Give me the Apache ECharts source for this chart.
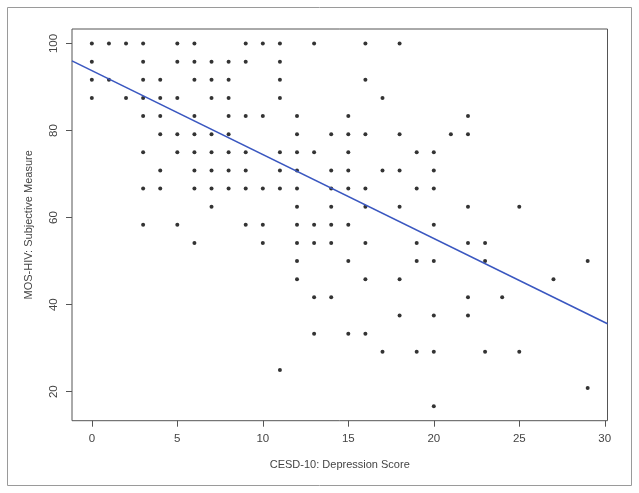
<!DOCTYPE html>
<html>
<head>
<meta charset="utf-8">
<script src="https://cdn.jsdelivr.net/npm/echarts@6/dist/echarts.min.js"></script>
<style>html,body{margin:0;padding:0;background:#fff;}#c{width:639px;height:493px;}</style>
</head>
<body>
<div id="c"></div>
<script>
// MOS-HIV score levels (rows) and the CESD-10 scores observed at each level
const mosLevels = [100, 95.83, 91.67, 87.5, 83.33, 79.17, 75, 70.83, 66.67, 62.5, 58.33, 54.17, 50, 45.83, 41.67, 37.5, 33.33, 29.17, 25, 20.83, 16.67];
const cesdAtLevel = [
  [0,1,2,3,5,6,9,10,11,13,16,18],
  [0,3,5,6,7,8,9,11],
  [0,1,3,4,6,7,8,11,16],
  [0,2,3,4,5,7,8,11,17],
  [3,4,6,8,9,10,12,15,22],
  [4,5,6,7,8,12,14,15,16,18,21,22],
  [3,5,6,7,8,9,11,12,13,15,19,20],
  [4,6,7,8,9,11,12,14,15,17,18,20],
  [3,4,6,7,8,9,10,11,12,14,15,16,19,20],
  [7,12,14,16,18,22,25],
  [3,5,9,10,12,13,14,15,20],
  [6,10,12,13,14,16,19,22,23],
  [12,15,19,20,23,29],
  [12,16,18,27],
  [13,14,22,24],
  [18,20,22],
  [13,15,16],
  [17,19,20,23,25],
  [11],
  [29],
  [20]
];
// fitted regression line (endpoints at plot edges)
const fitLine = [[-1.16, 96.0], [30.16, 35.6]];
const xTicks = [0, 5, 10, 15, 20, 25, 30];
const yTicks = [20, 40, 60, 80, 100];

const points = [];
mosLevels.forEach((m, i) => cesdAtLevel[i].forEach(c => points.push([c, m])));

const chart = echarts.init(document.getElementById('c'));
const txt = '#444';
const font = 'Liberation Sans, Arial, sans-serif';
chart.setOption({
  animation: false,
  backgroundColor: '#fff',
  graphic: [{
    type: 'rect', shape: {x: 7.5, y: 7.5, width: 624, height: 478},
    style: {fill: 'none', stroke: '#9a9a9a', lineWidth: 1}, silent: true
  }],
  grid: {left: 72, top: 29, right: 31.5, bottom: 72.3, show: true, borderColor: '#555', borderWidth: 1, backgroundColor: 'transparent'},
  xAxis: {
    type: 'value', min: -1.16, max: 30.16,
    name: 'CESD-10: Depression Score', nameLocation: 'middle', nameGap: 39,
    nameTextStyle: {color: txt, fontSize: 11, fontFamily: font},
    axisLine: {show: false, onZero: false},
    axisTick: {show: true, length: 6, customValues: xTicks, lineStyle: {color: '#555'}},
    axisLabel: {customValues: xTicks, color: txt, fontSize: 11.5, fontFamily: font, margin: 12},
    splitLine: {show: false}
  },
  yAxis: {
    type: 'value', min: 13.33, max: 103.33,
    name: 'MOS-HIV: Subjective Measure', nameLocation: 'middle', nameRotate: 90, nameGap: 38,
    nameTextStyle: {color: txt, fontSize: 11, fontFamily: font},
    axisLine: {show: false, onZero: false},
    axisTick: {show: true, length: 6, customValues: yTicks, lineStyle: {color: '#555'}},
    axisLabel: {customValues: yTicks, rotate: 90, color: txt, fontSize: 11.5, fontFamily: font, margin: 12},
    splitLine: {show: false}
  },
  series: [
    {type: 'scatter', data: points, symbolSize: 4, itemStyle: {color: '#000'}, silent: true},
    {type: 'line', data: fitLine, symbol: 'none', lineStyle: {color: '#3a57c0', width: 1.6}, silent: true, z: 3}
  ]
});
</script>
</body>
</html>
